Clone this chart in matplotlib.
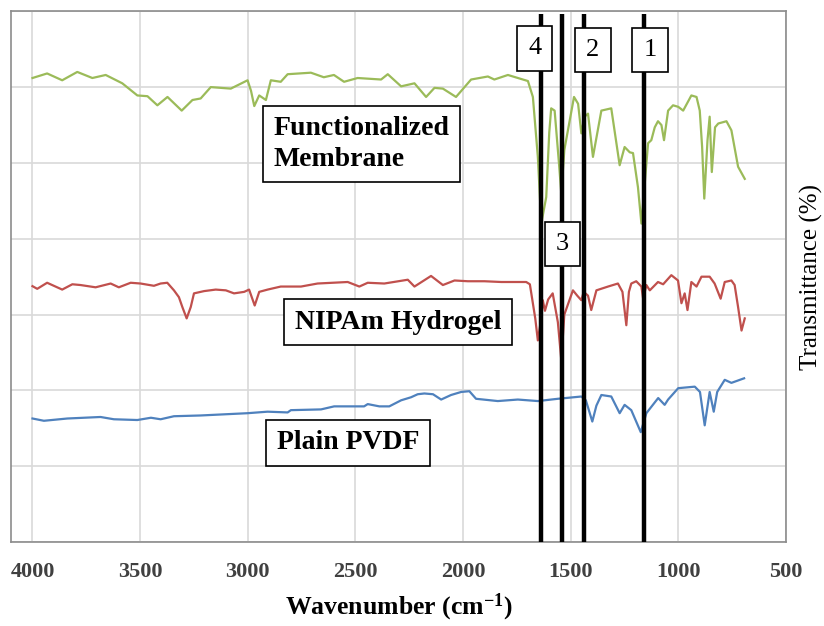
import matplotlib.pyplot as plt

plt.rcParams['font.family'] = ['Liberation Serif', 'DejaVu Serif']
plt.rcParams['mathtext.default'] = 'regular'

# Functionalized membrane (green)
wn_func = [4000, 3932, 3862, 3792, 3722, 3660, 3583, 3513, 3466, 3420, 3373, 3307, 3257, 3219,
           3172, 3079, 3001, 2985, 2970, 2947, 2916, 2893, 2847, 2815, 2707, 2647, 2600, 2553,
           2490, 2381, 2350, 2288, 2226, 2172, 2133, 2094, 2033, 1963, 1885, 1855, 1792, 1699,
           1676, 1653, 1637, 1614, 1600, 1591, 1575, 1555, 1544, 1530, 1485, 1466, 1451, 1436,
           1420, 1397, 1358, 1312, 1273, 1250, 1226, 1211, 1188, 1172, 1141, 1126, 1110, 1095,
           1079, 1067, 1048, 1025, 1001, 978, 940, 916, 901, 890, 880, 865, 855, 845, 830, 815,
           777, 754, 723, 692]
t_func = [6.12, 6.18, 6.09, 6.20, 6.12, 6.16, 6.05, 5.89, 5.88, 5.76, 5.87, 5.69, 5.83, 5.85,
          6.00, 5.98, 6.09, 5.95, 5.75, 5.89, 5.83, 6.09, 6.07, 6.17, 6.19, 6.13, 6.16, 6.07,
          6.12, 6.10, 6.17, 6.01, 6.05, 5.87, 5.99, 5.98, 5.87, 6.10, 6.14, 6.10, 6.16, 6.08,
          5.87, 5.08, 4.20, 4.55, 5.40, 5.72, 5.69, 5.00, 4.60, 5.17, 5.87, 5.78, 5.39, 5.61,
          5.65, 5.08, 5.69, 5.72, 4.97, 5.21, 5.14, 5.13, 4.68, 4.20, 5.26, 5.30, 5.47, 5.55,
          5.50, 5.30, 5.69, 5.76, 5.74, 5.69, 5.89, 5.87, 5.69, 5.21, 4.53, 5.30, 5.61, 4.88,
          5.47, 5.52, 5.55, 5.43, 4.95, 4.79]

# NIPAm hydrogel (red)
wn_nipam = [4000, 3978, 3932, 3862, 3815, 3777, 3707, 3637, 3599, 3544, 3498, 3436, 3405, 3374,
            3343, 3320, 3304, 3284, 3265, 3250, 3203, 3149, 3102, 3064, 3017, 2994, 2968, 2947,
            2908, 2847, 2753, 2676, 2536, 2482, 2443, 2366, 2257, 2226, 2149, 2094, 2040, 1978,
            1901, 1823, 1707, 1690, 1665, 1653, 1640, 1630, 1620, 1605, 1584, 1560, 1544, 1530,
            1490, 1470, 1451, 1440, 1420, 1405, 1381, 1327, 1281, 1260, 1242, 1230, 1219, 1196,
            1172, 1164, 1149, 1133, 1095, 1071, 1033, 1002, 986, 971, 958, 940, 916, 893, 855,
            832, 804, 785, 754, 739, 723, 707, 692]
t_nipam = [3.375, 3.34, 3.42, 3.33, 3.40, 3.39, 3.36, 3.41, 3.36, 3.42, 3.41, 3.38, 3.41, 3.42,
           3.32, 3.23, 3.10, 2.95, 3.10, 3.28, 3.31, 3.33, 3.32, 3.28, 3.30, 3.33, 3.12, 3.30,
           3.33, 3.37, 3.37, 3.41, 3.43, 3.37, 3.42, 3.41, 3.46, 3.37, 3.51, 3.39, 3.45, 3.44,
           3.44, 3.43, 3.43, 3.40, 2.95, 2.66, 2.90, 3.19, 3.05, 3.20, 3.28, 2.90, 2.40, 3.00,
           3.32, 3.25, 3.19, 3.30, 3.25, 3.06, 3.32, 3.37, 3.41, 3.30, 2.86, 3.30, 3.41, 3.44,
           3.37, 3.21, 3.39, 3.32, 3.43, 3.40, 3.52, 3.45, 3.15, 3.28, 3.06, 3.43, 3.37, 3.50,
           3.50, 3.41, 3.21, 3.43, 3.45, 3.39, 3.10, 2.79, 2.95]

# Plain PVDF (blue)
wn_pvdf = [4000, 3947, 3838, 3684, 3622, 3513, 3450, 3405, 3343, 3219, 3001, 2908, 2815, 2800,
           2660, 2599, 2460, 2443, 2389, 2343, 2288, 2242, 2211, 2180, 2140, 2102, 2056, 2009,
           1971, 1940, 1839, 1746, 1653, 1560, 1451, 1430, 1400, 1381, 1358, 1312, 1273, 1250,
           1219, 1175, 1149, 1094, 1064, 1048, 1001, 924, 900, 878, 855, 836, 820, 785, 754, 695]
t_pvdf = [1.63, 1.60, 1.63, 1.65, 1.62, 1.61, 1.64, 1.62, 1.66, 1.67, 1.70, 1.72, 1.71, 1.74,
          1.75, 1.79, 1.79, 1.82, 1.79, 1.79, 1.87, 1.91, 1.95, 1.96, 1.95, 1.88, 1.94, 1.98,
          1.99, 1.89, 1.86, 1.88, 1.86, 1.89, 1.92, 1.87, 1.59, 1.80, 1.94, 1.92, 1.70, 1.81,
          1.74, 1.45, 1.70, 1.90, 1.81, 1.88, 2.03, 2.05, 1.98, 1.54, 1.98, 1.72, 1.98, 2.14,
          2.10, 2.16]

peak_pos = [1160, 1440, 1540, 1637]
peak_labels = ['1', '2', '3', '4']
peak_label_xy = [(1133, 6.49), (1397, 6.49), (1538, 3.93), (1667, 6.51)]

fig = plt.figure(figsize=(8.24, 6.26), dpi=100)
ax = fig.add_axes([0.0133, 0.134, 0.9407, 0.848])

ax.plot(wn_func, t_func, color='#9BBB59', lw=1.6, zorder=3)
ax.plot(wn_nipam, t_nipam, color='#C0504D', lw=1.6, zorder=3)
ax.plot(wn_pvdf, t_pvdf, color='#4F81BD', lw=1.6, zorder=3)

ax.vlines(peak_pos, 0, 6.97, color='black', lw=3.2, zorder=4, clip_on=False)

box = dict(boxstyle='square,pad=0.42', facecolor='white', edgecolor='black', lw=1.2)
for lab, (x, y) in zip(peak_labels, peak_label_xy):
    ax.text(x, y, lab, fontsize=19, ha='center', va='center', bbox=box, zorder=6)

box2 = dict(boxstyle='square,pad=0.38', facecolor='white', edgecolor='black', lw=1.2)
ax.text(2880, 5.25, 'Functionalized\nMembrane', fontsize=20, fontweight='bold',
        ha='left', va='center', linespacing=1.3, bbox=box2, zorder=6)
ax.text(2302, 2.90, 'NIPAm Hydrogel', fontsize=20, fontweight='bold',
        ha='center', va='center', bbox=box2, zorder=6)
ax.text(2535, 1.31, 'Plain PVDF', fontsize=20, fontweight='bold',
        ha='center', va='center', bbox=box2, zorder=6)

ax.set_xlim(4100, 500)
ax.set_ylim(0, 7)
ax.set_xticks([4000, 3500, 3000, 2500, 2000, 1500, 1000, 500])
ax.set_yticks(range(8))
ax.set_yticklabels([])
ax.grid(True, color='#D9D9D9', lw=1.2, zorder=0)
ax.set_axisbelow(True)
ax.tick_params(axis='both', length=0)
ax.tick_params(axis='x', pad=14, labelsize=16, labelcolor='#404040')
for lbl in ax.get_xticklabels():
    lbl.set_fontweight('bold')
for s in ax.spines.values():
    s.set_color('#8C8C8C')
    s.set_linewidth(1.2)

ax.set_xlabel('Wavenumber (cm$^{-1}$)', fontsize=18.5, fontweight='bold', labelpad=7)
ax.yaxis.set_label_position('right')
ax.set_ylabel('Transmittance (%)', fontsize=18, labelpad=10)

fig.savefig('out.png', dpi=100)
